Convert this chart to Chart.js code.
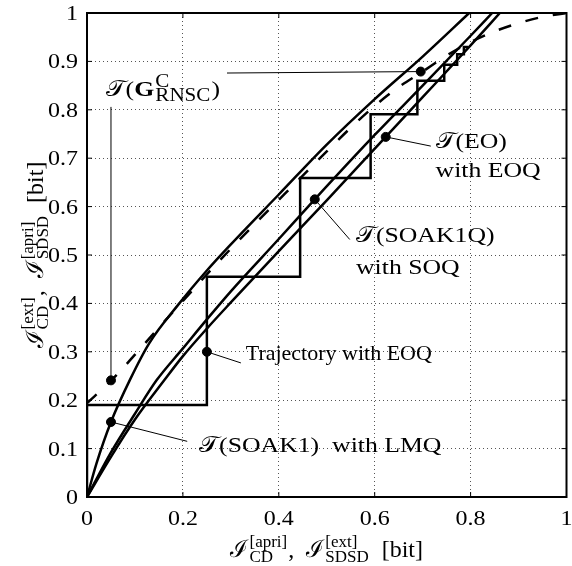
<!DOCTYPE html>
<html>
<head>
<meta charset="utf-8">
<script src="https://cdn.jsdelivr.net/npm/chart.js@4.4.0/dist/chart.umd.min.js"></script>
<style>
  html, body { margin: 0; padding: 0; background: #fff; }
  #wrap { width: 572px; height: 566px; }
</style>
</head>
<body>
<div id="wrap"><canvas id="exitChart" width="572" height="566"></canvas></div>
<script>
// values
var xTicks = [0, 0.2, 0.4, 0.6, 0.8, 1];
var yTicks = [0, 0.1, 0.2, 0.3, 0.4, 0.5, 0.6, 0.7, 0.8, 0.9, 1];

// T(G_RNSC^C), dashed
var rnscX = [0, 0.05, 0.1, 0.15, 0.2, 0.25, 0.3, 0.35, 0.4, 0.45, 0.5, 0.55, 0.6, 0.65, 0.7, 0.75, 0.8, 0.85, 0.9, 0.95, 1];
var rnscY = [0.194, 0.24, 0.294, 0.35, 0.405, 0.46, 0.513, 0.564, 0.614, 0.664, 0.714, 0.763, 0.808, 0.847, 0.879, 0.912, 0.94, 0.962, 0.979, 0.992, 1];

// T(SOAK1) with LMQ
var soak1X = [0, 0.02, 0.05, 0.09, 0.13, 0.19, 0.25, 0.3, 0.4, 0.5, 0.6, 0.7, 0.797];
var soak1Y = [0, 0.07, 0.155, 0.243, 0.318, 0.397, 0.468, 0.522, 0.625, 0.728, 0.822, 0.91, 1];

// T(SOAK1Q) with SOQ
var soak1qX = [0, 0.05, 0.1, 0.145, 0.2, 0.25, 0.3, 0.4, 0.475, 0.6, 0.7, 0.8, 0.845];
var soak1qY = [0, 0.092, 0.172, 0.241, 0.307, 0.367, 0.425, 0.533, 0.615, 0.748, 0.85, 0.953, 1];

// T(EO) with EOQ
var eoX = [0, 0.05, 0.1, 0.161, 0.2, 0.25, 0.3, 0.4, 0.5, 0.623, 0.7, 0.8, 0.861];
var eoY = [0, 0.083, 0.16, 0.241, 0.291, 0.348, 0.402, 0.508, 0.613, 0.744, 0.826, 0.933, 1];

// decoding trajectory with EOQ
var trajX = [0, 0, 0.25, 0.25, 0.4445, 0.4445, 0.5915, 0.5915, 0.689, 0.689, 0.745, 0.745, 0.772, 0.772, 0.786, 0.786, 0.795];
var trajY = [0, 0.19, 0.19, 0.455, 0.455, 0.659, 0.659, 0.791, 0.791, 0.86, 0.86, 0.893, 0.893, 0.915, 0.915, 0.93, 0.93];

// labelled points
var markX = [0.05, 0.696, 0.05, 0.25, 0.475, 0.623];
var markY = [0.241, 0.879, 0.155, 0.30, 0.615, 0.744];

var FONT = '"Liberation Serif", "Times New Roman", serif';
var CAL_T = '\uD835\uDCAF';   // script T
var CAL_I = '\u2110';         // script I
var SX = 1.17;                // the figure's text is a bit wider than Times

function pts(xs, ys) {
  return xs.map(function (x, i) { return {x: x, y: ys[i]}; });
}

// leader lines: [mark index, x, y] -> line from mark to (x, y)
var leaders = [
  [0, 0.05, 0.806],
  [1, 0.292, 0.876],
  [2, 0.209, 0.115],
  [3, 0.321, 0.277],
  [4, 0.548, 0.532],
  [5, 0.717, 0.725]
];

// annotation texts, anchored at the left baseline in data units
var notes = [
  {x: 0.039, y: 0.829, size: 22, sx: SX, sub: 0.8, parts: [CAL_T, '(', {t: 'G', bold: true}, {sup: 'C', sub: 'RNSC'}, ')']},
  {x: 0.234, y: 0.092, size: 22, sx: SX, parts: [CAL_T, '(SOAK1)', '\u2002with LMQ']},
  {x: 0.331, y: 0.283, size: 22, sx: 1, parts: ['Trajectory with EOQ']},
  {x: 0.561, y: 0.527, size: 22, sx: SX, parts: [CAL_T, '(SOAK1Q)']},
  {x: 0.561, y: 0.46, size: 22, sx: SX, parts: ['with SOQ']},
  {x: 0.727, y: 0.721, size: 22, sx: SX, parts: [CAL_T, '(EO)']},
  {x: 0.727, y: 0.661, size: 22, sx: SX, parts: ['with EOQ']}
];

var xTitle = [CAL_I, {sup: '[apri]', sub: 'CD'}, ',\u2002', CAL_I, {sup: '[ext]', sub: 'SDSD'}, '\u2002[bit]'];
var yTitle = [CAL_I, {sup: '[ext]', sub: 'CD'}, ',\u2002', CAL_I, {sup: '[apri]', sub: 'SDSD'}, '\u2002[bit]'];

// draws text with stacked super/subscripts at the left baseline (x, y), returns width
function rich(ctx, x, y, parts, size, sx, dry, subRatio) {
  var cx = 0;
  ctx.save();
  ctx.translate(x, y);
  ctx.scale(sx, 1);
  parts.forEach(function (p) {
    if (typeof p === 'string') p = {t: p};
    if (p.t !== undefined) {
      ctx.font = (p.bold ? 'bold ' : '') + size + 'px ' + FONT;
      if (!dry) ctx.fillText(p.t, cx, 0);
      cx += ctx.measureText(p.t).width;
    } else {
      var s = Math.round(size * (subRatio || 0.72));
      ctx.font = s + 'px ' + FONT;
      var w1 = ctx.measureText(p.sup).width;
      var w2 = ctx.measureText(p.sub).width;
      if (!dry) {
        ctx.fillText(p.sup, cx + 1, -size * 0.42);
        ctx.fillText(p.sub, cx + 1, size * 0.22);
      }
      cx += Math.max(w1, w2) + 2;
    }
  });
  ctx.restore();
  return cx * sx;
}

var exitDecor = {
  id: 'exitDecor',
  beforeDatasetsDraw: function (chart) {
    var ctx = chart.ctx, xs = chart.scales.x, ys = chart.scales.y;
    ctx.save();
    ctx.strokeStyle = '#000';
    ctx.lineWidth = 1;
    leaders.forEach(function (l) {
      ctx.beginPath();
      ctx.moveTo(xs.getPixelForValue(markX[l[0]]), ys.getPixelForValue(markY[l[0]]));
      ctx.lineTo(xs.getPixelForValue(l[1]), ys.getPixelForValue(l[2]));
      ctx.stroke();
    });
    ctx.restore();
  },
  afterDatasetsDraw: function (chart) {
    var ctx = chart.ctx, xs = chart.scales.x, ys = chart.scales.y, a = chart.chartArea;
    ctx.save();
    ctx.strokeStyle = '#000';
    // inward tick marks
    ctx.lineWidth = 1;
    ctx.beginPath();
    xTicks.forEach(function (v) {
      var px = xs.getPixelForValue(v);
      ctx.moveTo(px, a.bottom); ctx.lineTo(px, a.bottom - 5);
      ctx.moveTo(px, a.top); ctx.lineTo(px, a.top + 5);
    });
    yTicks.forEach(function (v) {
      var py = ys.getPixelForValue(v);
      ctx.moveTo(a.left, py); ctx.lineTo(a.left + 5, py);
      ctx.moveTo(a.right, py); ctx.lineTo(a.right - 5, py);
    });
    ctx.stroke();
    // frame
    ctx.lineWidth = 2;
    ctx.strokeRect(a.left, a.top, a.right - a.left, a.bottom - a.top);

    ctx.fillStyle = '#000';
    ctx.textBaseline = 'alphabetic';
    ctx.textAlign = 'left';

    // tick labels
    xTicks.forEach(function (v) {
      var s = String(v);
      var w = rich(ctx, 0, 0, [s], 20, 1.2, true);
      rich(ctx, xs.getPixelForValue(v) - w / 2, 525, [s], 20, 1.2);
    });
    yTicks.forEach(function (v) {
      var s = String(v);
      var w = rich(ctx, 0, 0, [s], 20, 1.2, true);
      rich(ctx, 78 - w, ys.getPixelForValue(v) + 7, [s], 20, 1.2);
    });

    notes.forEach(function (n) {
      rich(ctx, xs.getPixelForValue(n.x), ys.getPixelForValue(n.y), n.parts, n.size, n.sx, false, n.sub);
    });

    // axis titles
    var w = rich(ctx, 0, 0, xTitle, 24, 1, true);
    rich(ctx, (a.left + a.right) / 2 - w / 2, 557, xTitle, 24, 1);
    w = rich(ctx, 0, 0, yTitle, 24, 1, true);
    ctx.translate(43, (a.top + a.bottom) / 2);
    ctx.rotate(-Math.PI / 2);
    rich(ctx, -w / 2, 0, yTitle, 24, 1);
    ctx.restore();
  }
};

var ctx = document.getElementById('exitChart').getContext('2d');
new Chart(ctx, {
  type: 'line',
  data: {
    datasets: [
      {data: pts(soak1X, soak1Y), borderColor: '#000', borderWidth: 2.5, cubicInterpolationMode: 'monotone'},
      {data: pts(soak1qX, soak1qY), borderColor: '#000', borderWidth: 2.5, cubicInterpolationMode: 'monotone'},
      {data: pts(eoX, eoY), borderColor: '#000', borderWidth: 2.5, cubicInterpolationMode: 'monotone'},
      {data: pts(rnscX, rnscY), borderColor: '#000', borderWidth: 2.5, borderDash: [13, 15], cubicInterpolationMode: 'monotone'},
      {data: pts(trajX, trajY), borderColor: '#000', borderWidth: 2.5, tension: 0},
      {data: pts(markX, markY), showLine: false, pointRadius: 4.5, pointBackgroundColor: '#000', pointBorderColor: '#000'}
    ]
  },
  options: {
    responsive: false,
    animation: false,
    layout: {padding: {top: 13, right: 2, left: 0, bottom: 0}},
    elements: {point: {radius: 0}},
    plugins: {legend: {display: false}, tooltip: {enabled: false}},
    scales: {
      x: {
        type: 'linear', min: 0, max: 1,
        afterBuildTicks: function (s) { s.ticks = xTicks.map(function (v) { return {value: v}; }); },
        afterFit: function (s) { s.height = 69; s.paddingLeft = 0; s.paddingRight = 0; },
        ticks: {display: false},
        grid: {color: '#555', lineWidth: 1, drawTicks: false},
        border: {display: false, dash: [1, 3]}
      },
      y: {
        type: 'linear', min: 0, max: 1,
        afterBuildTicks: function (s) { s.ticks = yTicks.map(function (v) { return {value: v}; }); },
        afterFit: function (s) { s.width = 87; s.paddingTop = 0; s.paddingBottom = 0; },
        ticks: {display: false},
        grid: {color: '#555', lineWidth: 1, drawTicks: false},
        border: {display: false, dash: [1, 3]}
      }
    }
  },
  plugins: [exitDecor]
});
</script>
</body>
</html>
